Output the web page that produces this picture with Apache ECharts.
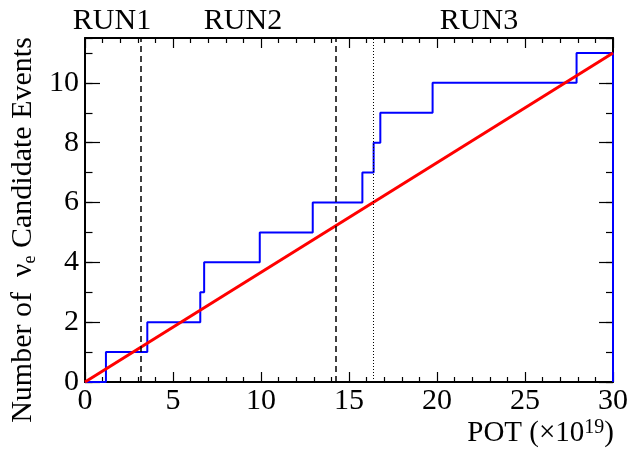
<!DOCTYPE html>
<html>
<head>
<meta charset="utf-8">
<script src="https://cdn.jsdelivr.net/npm/echarts@6/dist/echarts.min.js"></script>
<style>
html,body{margin:0;padding:0;background:#fff;}
#c{width:631px;height:450px;}
</style>
</head>
<body>
<div id="c"></div>
<script>
// Step edges (POT, x10^19) where the cumulative count changes
var stepPOT = [0, 1.19, 3.54, 6.55, 6.77, 9.93, 12.94, 15.76, 16.4, 16.78, 19.75, 27.93, 30];
var stepCount = [0, 1, 2, 3, 4, 5, 6, 7, 8, 9, 10, 11];
// Expected line
var expPOT = [0, 30];
var expCount = [0, 11];
// Run boundaries
var runBoundaries = [3.16, 14.22];
var run3Start = 16.4;
var runLabels = ['RUN1', 'RUN2', 'RUN3'];
var xTicks = [0, 5, 10, 15, 20, 25, 30];
var yTicks = [0, 2, 4, 6, 8, 10];

var FONT = '"Liberation Serif", "DejaVu Serif", serif';

// build stair points
var stair = [];
for (var i = 0; i < stepCount.length; i++) {
  stair.push([stepPOT[i], stepCount[i]]);
  stair.push([stepPOT[i + 1], stepCount[i]]);
}
stair.push([stepPOT[stepPOT.length - 1], 0]);
var expLine = expPOT.map(function (x, i) { return [x, expCount[i]]; });

var chart = echarts.init(document.getElementById('c'), null, {renderer: 'canvas'});
var grid = {left: 85, right: 15, top: 38, bottom: 68};
var lineStyleAxis = {color: '#000', width: 2};
var labelStyle = {fontFamily: FONT, fontSize: 30, color: '#000'};

function xAx(pos, showLabel) {
  return {
    type: 'value', min: xTicks[0], max: xTicks[xTicks.length - 1], interval: 5, position: pos,
    axisLine: {show: true, onZero: false, lineStyle: lineStyleAxis},
    axisTick: {show: true, inside: true, length: 10, lineStyle: {color: '#000', width: 1.2}},
    minorTick: {show: true, splitNumber: 5, length: 5, lineStyle: {color: '#000', width: 1.2}},
    splitLine: {show: false}, minorSplitLine: {show: false},
    axisLabel: showLabel ? Object.assign({margin: 4}, labelStyle) : {show: false}
  };
}
function yAx(pos, interval, len, showLine, showLabel) {
  return {
    type: 'value', min: 0, max: 11.5, interval: interval, position: pos,
    axisLine: {show: showLine, onZero: false, lineStyle: lineStyleAxis},
    axisTick: {show: true, inside: true, length: len, lineStyle: {color: '#000', width: 1.2}},
    splitLine: {show: false},
    axisLabel: showLabel ? Object.assign({margin: 6, showMaxLabel: false,
      formatter: function (v) { return yTicks.indexOf(v) >= 0 ? String(v) : ''; }}, labelStyle) : {show: false}
  };
}

var option = {
  animation: false,
  backgroundColor: '#fff',
  grid: grid,
  xAxis: [xAx('bottom', true), xAx('top', false)],
  yAxis: [yAx('left', 2, 15, true, true), yAx('left', 1, 7.5, false, false),
          yAx('right', 2, 14, true, false), yAx('right', 1, 7, false, false)],
  series: [
    {
      type: 'line', data: stair, xAxisIndex: 0, yAxisIndex: 0, symbol: 'none',
      lineStyle: {color: '#0000ff', width: 2}, z: 3,
      markLine: {
        silent: true, symbol: 'none', label: {show: false},
        data: [
          {xAxis: runBoundaries[0], lineStyle: {color: '#000', width: 1.5, type: [6, 4]}},
          {xAxis: runBoundaries[1], lineStyle: {color: '#000', width: 1.5, type: [6, 4]}},
          {xAxis: run3Start, lineStyle: {color: '#000', width: 1, type: [1, 2]}}
        ]
      }
    },
    {
      type: 'line', data: expLine, xAxisIndex: 0, yAxisIndex: 0, symbol: 'none',
      lineStyle: {color: '#ff0000', width: 3}, z: 4
    }
  ],
  graphic: [
    {type: 'text', x: 112, y: 21, style: {text: runLabels[0], font: '30px ' + FONT, fill: '#000', align: 'center', verticalAlign: 'middle'}},
    {type: 'text', x: 243, y: 21, style: {text: runLabels[1], font: '30px ' + FONT, fill: '#000', align: 'center', verticalAlign: 'middle'}},
    {type: 'text', x: 479, y: 21, style: {text: runLabels[2], font: '30px ' + FONT, fill: '#000', align: 'center', verticalAlign: 'middle'}},
    {type: 'text', x: 614, y: 433, style: {
      text: 'POT (×10{sup|19})', fontFamily: FONT, fontSize: 29, fill: '#000', align: 'right', verticalAlign: 'middle', lineHeight: 30,
      rich: {sup: {fontFamily: FONT, fontSize: 20, fill: '#000', verticalAlign: 'top', lineHeight: 18}}
    }},
    {type: 'text', x: 23, y: 230, rotation: Math.PI / 2, style: {
      text: 'Number of  ν{sub|e} Candidate Events', fontFamily: FONT, fontSize: 30, fill: '#000', align: 'center', verticalAlign: 'middle', lineHeight: 32,
      rich: {sub: {fontFamily: FONT, fontSize: 18, fill: '#000', verticalAlign: 'bottom', lineHeight: 17}}
    }}
  ]
};
chart.setOption(option);
</script>
</body>
</html>
